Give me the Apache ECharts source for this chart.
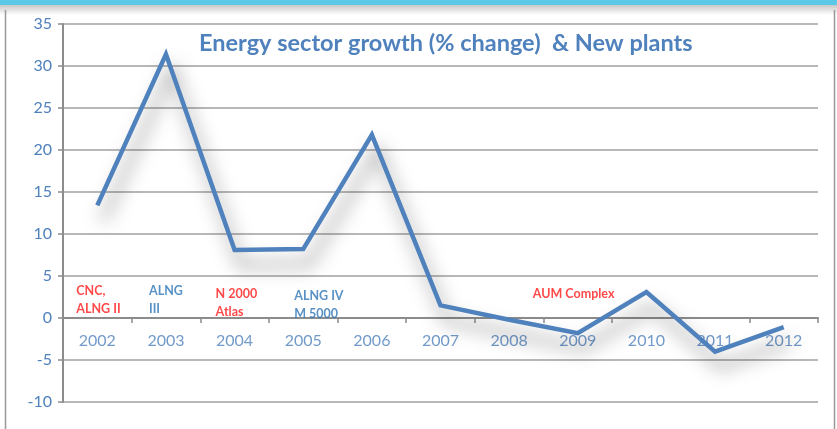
<!DOCTYPE html>
<html>
<head>
<meta charset="utf-8">
<script src="https://cdn.jsdelivr.net/npm/echarts@6/dist/echarts.min.js"></script>
<style>
  html, body { margin: 0; padding: 0; background: #fff; }
  #chart { width: 837px; height: 429px; }
</style>
</head>
<body>
<div id="chart"></div>
<script>
// data
var years = ['2002','2003','2004','2005','2006','2007','2008','2009','2010','2011','2012'];
var growth = [13.4, 31.4, 8.1, 8.2, 21.8, 1.5, -0.2, -1.8, 3.1, -4.0, -1.1];
var yTicks = [-10, -5, 0, 5, 10, 15, 20, 25, 30, 35];

// new plants notes
var noteYears = ['2002', '2003', '2004', '2005', '2009'];
var noteTexts = ['CNC,\nALNG II', 'ALNG\nIII', 'N 2000\nAtlas', 'ALNG IV\nM 5000', 'AUM Complex'];
var noteLevels = [2.1, 2.1, 1.8, 1.6, 2.9];
var noteRed = [true, false, true, false, true];
var noteShift = [-21, -17, -19, -9, -45];

var blue = '#4F81BD';
var fontFam = 'Lato, "Open Sans", sans-serif';

var noteData = noteYears.map(function(y, i){
    return {
        value: [y, noteLevels[i]],
        label: {
            formatter: noteTexts[i],
            color: noteRed[i] ? '#FF1A1A' : '#2E75B6',
            offset: [noteShift[i], 0]
        }
    };
});

// year labels sit under the zero line, not at the bottom of the plot
var yearMarks = years.map(function(y){ return [y, 0]; });

var chart = echarts.init(document.getElementById('chart'));
chart.setOption({
    animation: false,
    backgroundColor: '#fff',
    title: {
        text: 'Energy sector growth (% change)  & New plants',
        left: 194, top: 26,
        textStyle: { color: blue, fontSize: 23.5, fontWeight: 'bold', fontFamily: fontFam }
    },
    graphic: [
        { type: 'rect', shape: { x: 0, y: 0, width: 837, height: 5 }, style: { fill: '#5BC8E8' }, z: 10 },
        { type: 'rect', shape: { x: 0, y: 5, width: 837, height: 10 },
          style: { fill: new echarts.graphic.LinearGradient(0, 0, 0, 1, [
              { offset: 0, color: 'rgba(0,0,0,0.22)' }, { offset: 1, color: 'rgba(0,0,0,0)' }]) }, z: 10 },
        { type: 'line', shape: { x1: 5.5, y1: 10, x2: 5.5, y2: 429 }, style: { stroke: '#999', lineWidth: 1.5 }, z: 10 },
        { type: 'line', shape: { x1: 834.5, y1: 10, x2: 834.5, y2: 429 }, style: { stroke: '#999', lineWidth: 1.5 }, z: 10 }
    ],
    grid: { left: 63, right: 19, top: 24, bottom: 27, containLabel: false },
    xAxis: {
        type: 'category',
        data: years,
        boundaryGap: true,
        axisLine: { onZero: true, lineStyle: { color: '#8c8c8c', width: 2 } },
        axisTick: { show: true, length: 5, lineStyle: { color: '#8c8c8c', width: 1.5 } },
        axisLabel: { show: false },
        splitLine: { show: false }
    },
    yAxis: {
        type: 'value',
        min: yTicks[0], max: yTicks[yTicks.length - 1], interval: 5,
        axisLine: { show: true, lineStyle: { color: '#8c8c8c', width: 2 } },
        axisTick: { show: true, length: 5, lineStyle: { color: '#8c8c8c', width: 1.5 } },
        axisLabel: { color: blue, fontSize: 16, margin: 11, fontFamily: fontFam },
        splitLine: { lineStyle: { color: '#a0a0a0', width: 1.5 } }
    },
    series: [
        {
            type: 'scatter',
            data: yearMarks,
            symbolSize: 0,
            silent: true,
            label: {
                show: true,
                position: 'inside',
                offset: [0, 23],
                formatter: function(p){ return p.value[0]; },
                color: blue, fontSize: 16, fontFamily: fontFam
            },
            z: 1
        },
        {
            type: 'line',
            data: growth,
            symbol: 'none',
            lineStyle: {
                color: blue, width: 4.5, join: 'miter',
                shadowColor: 'rgba(0,0,0,0.5)', shadowBlur: 18, shadowOffsetX: 6, shadowOffsetY: 15
            },
            z: 3
        },
        {
            type: 'scatter',
            data: noteData,
            symbolSize: 0,
            silent: true,
            label: {
                show: true,
                position: 'inside',
                align: 'left',
                verticalAlign: 'middle',
                fontSize: 12.5, fontWeight: 'bold', lineHeight: 18, fontFamily: fontFam
            },
            z: 4
        }
    ]
});
</script>
</body>
</html>
